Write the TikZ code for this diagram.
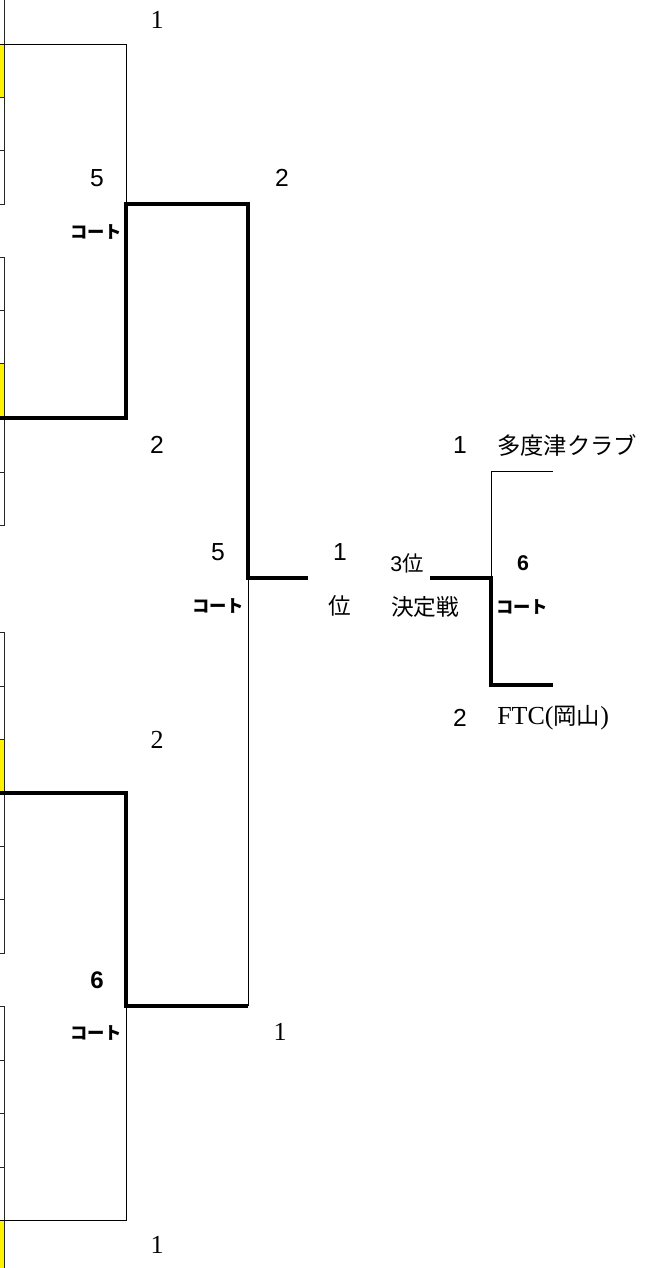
\documentclass[tikz,border=0pt]{standalone}
\usepackage{fontspec}
\setmainfont{Liberation Serif}
\setsansfont{Liberation Sans}
\newfontfamily\jp{Noto Sans CJK JP}
\begin{document}
\begin{tikzpicture}[x=0.75pt,y=-0.75pt,
  thinl/.style={line width=0.75pt},
  thickl/.style={line width=3.7pt},
  cell/.style={line width=0.75pt, draw=black!85},
  yell/.style={fill=yellow},
  ser/.style={font=\fontsize{19.5pt}{22pt}\selectfont\rmfamily, inner sep=0pt},
  san/.style={font=\fontsize{18.5pt}{22pt}\selectfont\sffamily, inner sep=0pt},
  sanb/.style={font=\fontsize{16pt}{18pt}\selectfont\sffamily\bfseries, inner sep=0pt},
  court/.style={font=\fontsize{13pt}{15pt}\selectfont\jp\bfseries, inner sep=0pt},
  jps/.style={font=\fontsize{17pt}{20pt}\selectfont\jp, inner sep=0pt},
  team/.style={font=\fontsize{17.5pt}{20pt}\selectfont\jp, inner sep=0pt, anchor=west}]
\useasboundingbox (0,0) rectangle (657,1268);
% yellow cells
\fill[yell] (0,44) rectangle (4,97);
\fill[yell] (0,363) rectangle (4,418);
\fill[yell] (0,739) rectangle (4,793);
\fill[yell] (0,1220) rectangle (4,1268);
% cell grid, block 1
\draw[cell] (4.5,0) -- (4.5,204);
\foreach \y in {97,150,204} \draw[cell] (0,\y) -- (4.5,\y);
% block 2
\draw[cell] (4.5,257) -- (4.5,525);
\foreach \y in {257,310,363,472,525} \draw[cell] (0,\y) -- (4.5,\y);
% block 3
\draw[cell] (4.5,632) -- (4.5,953);
\foreach \y in {632,686,739,846,899,953} \draw[cell] (0,\y) -- (4.5,\y);
% block 4
\draw[cell] (4.5,1006) -- (4.5,1268);
\foreach \y in {1006,1060,1113,1167} \draw[cell] (0,\y) -- (4.5,\y);
% bracket coordinates
\coordinate (a1) at (0,44);
\coordinate (a2) at (126,44);
\coordinate (m1) at (126,204);
\coordinate (b1) at (0,418);
\coordinate (b2) at (126,418);
\coordinate (m1r) at (248,204);
\coordinate (f) at (248,578);
\coordinate (fr) at (308,578);
\coordinate (c1) at (0,793);
\coordinate (c2) at (126,793);
\coordinate (m2) at (126,1006);
\coordinate (m2r) at (248,1006);
\coordinate (d1) at (0,1220);
\coordinate (d2) at (126,1220);
% third place
\coordinate (t1) at (553,471);
\coordinate (t1c) at (491,471);
\coordinate (tm) at (491,578);
\coordinate (tl) at (430,578);
\coordinate (t2c) at (491,685);
\coordinate (t2) at (553,685);
% thin bracket lines
\draw[thinl] (a1) -- (a2) -- (m1);
\draw[thinl] (d1) -- (d2) -- (m2);
\draw[thinl] (f) -- (m2r);
\draw[thinl] (t1) -- (t1c) -- (tm);
% thick winner lines
\draw[thickl] (b1) -- (b2) -- (m1) -- (m1r) -- (f) -- (fr);
\draw[thickl] (c1) -- (c2) -- (m2) -- (m2r);
\draw[thickl] (tl) -- (tm) -- (t2c) -- (t2);
% labels
\node[ser] (s1) at (157,20) {1};
\node[san] (n5a) at (97,178) {5};
\node[court] (ca) at (96,232) {コート};
\node[san] (n2a) at (282,178) {2};
\node[san] (n2b) at (157,445) {2};
\node[san] (n5b) at (218,552) {5};
\node[court] (cb) at (218,606) {コート};
\node[san] (n1f) at (340,552) {1};
\node[jps] (i1) at (340,606) {位};
\node[san,font=\fontsize{16pt}{20pt}\selectfont\sffamily] (tp) at (407,563) {3{\jp 位}};
\node[jps] (kt) at (425,607) {決定戦};
\node[sanb] (n6a) at (523,563) {6};
\node[court] (cc) at (522,607) {コート};
\node[san] (n1t) at (460,445) {1};
\node[team] (tm1) at (497,445) {多度津クラブ};
\node[san] (n2t) at (460,718) {2};
\node[team] (tm2) at (497,718) {\fontsize{19.5pt}{22pt}\selectfont\rmfamily FTC({\jp\fontsize{17.5pt}{20pt}\selectfont 岡山})};
\node[ser] (s2) at (157,740) {2};
\node[san,font=\fontsize{18pt}{20pt}\selectfont\sffamily\bfseries] (n6b) at (97,980) {6};
\node[court] (cd) at (96,1033) {コート};
\node[ser] (s3) at (280,1032) {1};
\node[ser] (s4) at (157,1245) {1};
\end{tikzpicture}
\end{document}
